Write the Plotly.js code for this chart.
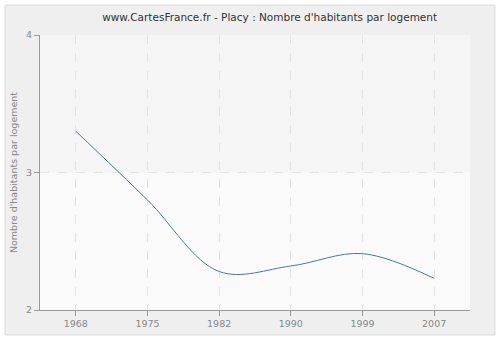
<!DOCTYPE html>
<html>
<head>
<meta charset="utf-8">
<script src="https://cdn.plot.ly/plotly-3.0.1.min.js"></script>
<style>html,body{margin:0;padding:0;background:#fff;}#chart{width:500px;height:340px;}</style>
</head>
<body>
<div id="chart"></div>
<script>
const years = ['1968', '1975', '1982', '1990', '1999', '2007'];
const values = [3.30, 2.80, 2.28, 2.32, 2.41, 2.23];
const yTicks = [2, 3, 4];

const trace = {
  x: years,
  y: values,
  type: 'scatter',
  mode: 'lines',
  line: {color: '#4a76ad', width: 1, shape: 'spline', smoothing: 1},
  hoverinfo: 'x+y'
};

const font = "'DejaVu Sans', Verdana, sans-serif";

const layout = {
  width: 500,
  height: 340,
  margin: {l: 40, r: 30, t: 35, b: 30},
  paper_bgcolor: '#ffffff',
  plot_bgcolor: '#fafafa',
  showlegend: false,
  title: {
    text: "www.CartesFrance.fr - Placy : Nombre d'habitants par logement",
    font: {family: font, size: 10.5, color: '#333333'},
    x: 0.534, xref: 'paper', xanchor: 'center',
    y: 0.95, yref: 'container', yanchor: 'middle'
  },
  xaxis: {
    type: 'category',
    range: [-0.5, 5.5],
    showline: true, linecolor: '#999999', linewidth: 1,
    ticks: 'outside', ticklen: 5, tickcolor: '#999999',
    showgrid: true, gridcolor: '#e3e3e3', griddash: 'dash', gridwidth: 1,
    tickfont: {family: font, size: 9.5, color: '#888888'},
    zeroline: false, fixedrange: true
  },
  yaxis: {
    range: [2, 4],
    tickvals: yTicks,
    ticktext: yTicks.map(String),
    showline: true, linecolor: '#999999', linewidth: 1,
    ticks: 'outside', ticklen: 5, tickcolor: '#999999',
    showgrid: true, gridcolor: '#e3e3e3', griddash: 'dash', gridwidth: 1,
    tickfont: {family: font, size: 9.5, color: '#888888'},
    zeroline: false, fixedrange: true,
    title: {text: "Nombre d'habitants par logement", font: {family: font, size: 9.5, color: '#888888'}, standoff: 6}
  },
  shapes: [
    {type: 'rect', xref: 'paper', yref: 'paper', x0: -0.0814, x1: 1.0581, y0: -0.0909, y1: 1.109,
     fillcolor: '#efefef', line: {color: '#dddddd', width: 1}, layer: 'below'},
    {type: 'rect', xref: 'paper', yref: 'paper', x0: 0, x1: 1, y0: 0, y1: 1,
     fillcolor: '#fafafa', line: {width: 0}, layer: 'below'},
    {type: 'rect', xref: 'paper', yref: 'y', x0: 0, x1: 1, y0: 3, y1: 4,
     fillcolor: '#f5f5f5', line: {width: 0}, layer: 'below'}
  ]
};

Plotly.newPlot('chart', [trace], layout, {displayModeBar: false, staticPlot: true});
</script>
</body>
</html>
